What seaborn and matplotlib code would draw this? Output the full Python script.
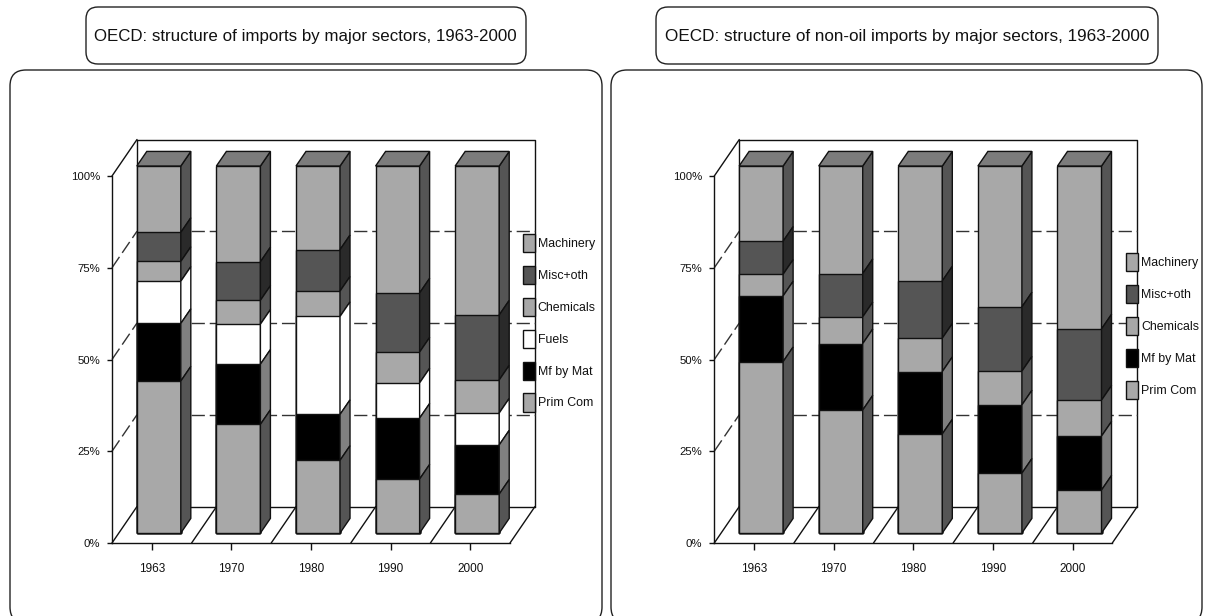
import matplotlib
matplotlib.use('Agg')
import matplotlib.pyplot as plt
import numpy as np
import seaborn as sns
from matplotlib.patches import FancyBboxPatch, Patch, Polygon

# Chart data, share of each sector in percent
years = ['1963', '1970', '1980', '1990', '2000']
pct_ticks = [0, 25, 50, 75, 100]

left_title = 'OECD: structure of imports by major sectors, 1963-2000'
left_sectors = ['Prim Com', 'Mf by Mat', 'Fuels', 'Chemicals', 'Misc+oth', 'Machinery']
left_prim = [41.4, 29.6, 19.8, 14.7, 10.6]
left_mf = [15.7, 16.4, 12.5, 16.6, 13.4]
left_fuels = [11.5, 10.9, 26.7, 9.6, 8.7]
left_chem = [5.4, 6.5, 6.9, 8.4, 9.0]
left_misc = [7.9, 10.5, 11.3, 16.1, 17.7]
left_mach = [18.1, 26.1, 22.8, 34.6, 40.6]

right_title = 'OECD: structure of non-oil imports by major sectors, 1963-2000'
right_sectors = ['Prim Com', 'Mf by Mat', 'Chemicals', 'Misc+oth', 'Machinery']
right_prim = [46.7, 33.5, 27.0, 16.3, 11.7]
right_mf = [17.9, 18.1, 17.0, 18.6, 14.7]
right_chem = [5.9, 7.3, 9.1, 9.2, 9.8]
right_misc = [9.0, 11.8, 15.6, 17.5, 19.4]
right_mach = [20.5, 29.3, 31.3, 38.4, 44.4]

# front face colour and side face colour of every sector
face_colors = {'Prim Com': '#a8a8a8', 'Mf by Mat': '#000000', 'Fuels': '#ffffff',
               'Chemicals': '#a8a8a8', 'Misc+oth': '#555555', 'Machinery': '#a8a8a8'}
side_colors = {'Prim Com': '#555555', 'Mf by Mat': '#808080', 'Fuels': '#ffffff',
               'Chemicals': '#555555', 'Misc+oth': '#2a2a2a', 'Machinery': '#555555'}
top_color = '#7c7c7c'
line_color = '#111111'

# oblique projection, in data units (one category, one percent)
DEPTH_X = 25 / 79.6
DEPTH_Y = 36.5 / 3.67
BAR_SHIFT_X = 0.088
BAR_LIFT = 2.72
BAR_DEPTH = 0.4
BAR_WIDTH = 0.553

sns.set_theme(style='white')
plt.rcParams['font.family'] = ['Liberation Sans', 'DejaVu Sans']
plt.rcParams['axes.linewidth'] = 1.0

W, H = 1208, 616
fig = plt.figure(figsize=(W / 100, H / 100), dpi=100)

# pixel canvas for the rounded frames and titles
bg = fig.add_axes([0, 0, 1, 1])
bg.set_xlim(0, W)
bg.set_ylim(H, 0)
bg.axis('off')


def rounded_box(x0, y0, x1, y1, radius):
    bg.add_patch(FancyBboxPatch((x0, y0), x1 - x0, y1 - y0,
                                boxstyle=f'round,pad=0,rounding_size={radius}',
                                fc='white', ec='#222222', lw=1.0, clip_on=True))


def draw_panel(left_px, sectors, shares, legend_xy):
    ax = fig.add_axes([left_px / W, 1 - 543 / H, 398 / W, 367 / H], facecolor='none')
    n = len(years)
    x_lo, x_hi = -0.5, n - 0.5
    dx, dy = DEPTH_X, DEPTH_Y

    # back wall, floor and side wall
    wall = dict(color=line_color, lw=1.0, zorder=0, clip_on=False)
    ax.plot([x_lo + dx, x_hi + dx, x_hi + dx], [100 + dy, 100 + dy, dy], **wall)
    ax.plot([x_lo + dx, x_lo + dx, x_hi + dx], [100 + dy, dy, dy], **wall)
    ax.plot([x_lo, x_lo + dx], [100, 100 + dy], **wall)
    for k in range(n + 1):
        ax.plot([x_lo + k, x_lo + k + dx], [0, dy], **wall)
    for p in pct_ticks[1:-1]:
        dash = dict(color='#333333', lw=1.0, zorder=0, clip_on=False, dashes=(9.5, 3.5))
        ax.plot([x_lo, x_lo + dx], [p, p + dy], **dash)
        ax.plot([x_lo + dx, x_hi + dx], [p + dy, p + dy], **dash)

    # stacked bars: tallest cumulative first, the lower ones paint over it
    tops = np.cumsum(np.array(shares), axis=0)
    lows = tops - np.array(shares)
    for i in reversed(range(len(sectors))):
        sns.barplot(x=years, y=tops[i], ax=ax, color=face_colors[sectors[i]], saturation=1,
                    width=BAR_WIDTH, bottom=BAR_LIFT, errorbar=None, edgecolor=line_color,
                    linewidth=1.0)
        for j, bar in enumerate(ax.patches[-n:]):
            bar.set_x(bar.get_x() + BAR_SHIFT_X)
            bar.set_clip_on(False)
            x1 = bar.get_x() + bar.get_width()
            y0 = lows[i][j] + BAR_LIFT
            y1 = tops[i][j] + BAR_LIFT
            ox, oy = dx * BAR_DEPTH, dy * BAR_DEPTH
            ax.add_patch(Polygon([(x1, y0), (x1 + ox, y0 + oy), (x1 + ox, y1 + oy), (x1, y1)],
                                 fc=side_colors[sectors[i]], ec=line_color, lw=1.0,
                                 clip_on=False))
            if i == len(sectors) - 1:
                x0 = bar.get_x()
                ax.add_patch(Polygon([(x0, y1), (x1, y1), (x1 + ox, y1 + oy), (x0 + ox, y1 + oy)],
                                     fc=top_color, ec=line_color, lw=1.0, clip_on=False))

    ax.set_xlim(x_lo, x_hi)
    ax.set_ylim(0, 100)
    ax.set_yticks(pct_ticks)
    ax.set_yticklabels([f'{p}%' for p in pct_ticks])
    ax.set_xlabel('')
    ax.set_ylabel('')
    ax.tick_params(axis='y', left=True, length=3.6, width=1.0, pad=5, labelsize=8.2,
                   color=line_color, labelcolor=line_color)
    ax.tick_params(axis='x', bottom=True, length=5, width=1.0, pad=9.5, labelsize=8.5,
                   color=line_color, labelcolor=line_color)
    sns.despine(ax=ax)
    for side in ('left', 'bottom'):
        ax.spines[side].set_color(line_color)

    handles = [Patch(fc=face_colors[s], ec=line_color, lw=1.0) for s in reversed(sectors)]
    ax.legend(handles, list(reversed(sectors)), loc='upper left', bbox_to_anchor=legend_xy,
              bbox_transform=bg.transData, frameon=False, fontsize=8.9, borderpad=0,
              borderaxespad=0, handlelength=0.97, handleheight=1.87, handletextpad=0.25,
              labelspacing=1.12, labelcolor=line_color)


rounded_box(10, 70, 602, 623, 16)
rounded_box(611, 70, 1202, 623, 16)
rounded_box(86, 7, 526, 64, 12)
rounded_box(656, 7, 1158, 64, 12)
bg.text(305, 36, left_title, ha='center', va='center', fontsize=12.2, color=line_color)
bg.text(907, 36, right_title, ha='center', va='center', fontsize=12.3, color=line_color)

draw_panel(112, left_sectors, [left_prim, left_mf, left_fuels, left_chem, left_misc, left_mach],
           (522.7, 234))
draw_panel(714.3, right_sectors, [right_prim, right_mf, right_chem, right_misc, right_mach],
           (1126, 253))

fig.savefig('out.png', dpi=100)
